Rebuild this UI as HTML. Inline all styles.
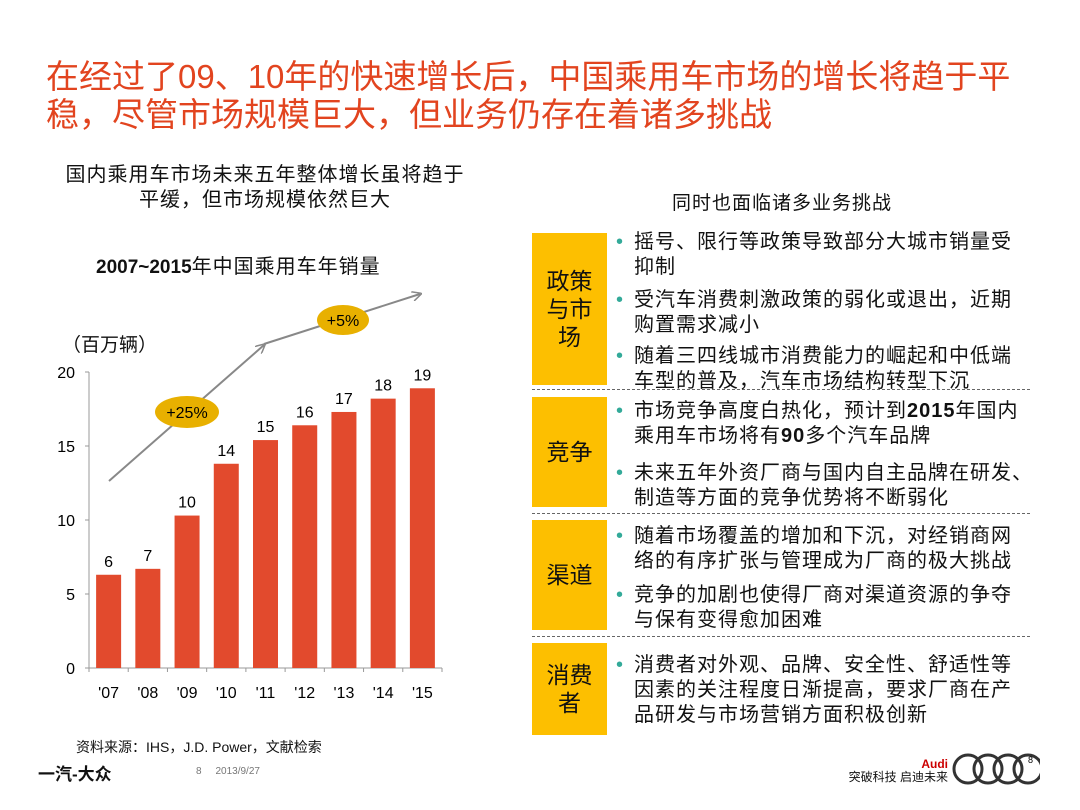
<!DOCTYPE html>
<html><head><meta charset="utf-8"><style>
body{margin:0;width:1080px;height:810px;background:#fff;position:relative;overflow:hidden;font-family:"Liberation Sans","Noto Sans CJK SC",sans-serif;color:#111}
.a{position:absolute}
.title{left:46px;top:58px;font-size:33px;line-height:38px;color:#e2441f;width:975px}
.ybox{position:absolute;left:532px;width:75px;background:#fdbf00;display:flex;align-items:center;justify-content:center;text-align:center;font-size:23px;line-height:28px}
.bl{position:absolute;left:616px;font-size:20px;letter-spacing:1px;line-height:25px;width:392px;padding-left:18px}
.bl span.d{position:absolute;left:0;color:#3a9;}
.dash{position:absolute;left:532px;width:498px;border-top:1px dashed #666}
</style></head><body>
<div class="a title">在经过了09、10年的快速增长后，中国乘用车市场的增长将趋于平稳，尽管市场规模巨大，但业务仍存在着诸多挑战</div>
<div class="a" style="left:50px;top:163px;width:430px;text-align:center;font-size:20px;letter-spacing:1px;line-height:25px">国内乘用车市场未来五年整体增长虽将趋于<br>平缓，但市场规模依然巨大</div>
<div class="a" style="left:532px;top:188px;width:500px;text-align:center;font-size:19px;letter-spacing:1px">同时也面临诸多业务挑战</div>
<div class="a" style="left:96px;top:250px;font-size:19px;font-weight:bold">2007~2015<span style="font-weight:normal;font-size:20px;letter-spacing:1px">年中国乘用车年销量</span></div>
<div class="a" style="left:62px;top:330px;font-size:19px">（百万辆）</div>
<svg class="a" style="left:0;top:0" width="1080" height="810" id="chart"></svg>
<div class="a" style="left:76px;top:737px;font-size:14px">资料来源：IHS，J.D. Power，文献检索</div>
<div class="a" style="left:38px;top:760px;font-size:17px;font-weight:bold">一汽-大众</div>
<div class="a" style="left:196px;top:766px;font-size:10px;color:#777">8 &nbsp;&nbsp;&nbsp;&nbsp;2013/9/27</div>
<div class="a" style="left:838px;top:758px;font-size:12px;text-align:right;width:110px;line-height:13px"><span style="color:#c00;font-weight:bold">Audi</span><br>突破科技 启迪未来</div>
<svg class="a" style="left:950px;top:752px" width="90" height="36"><g fill="none" stroke="#333" stroke-width="3"><circle cx="18" cy="17" r="14"/><circle cx="38" cy="17" r="14"/><circle cx="58" cy="17" r="14"/><circle cx="78" cy="17" r="14"/></g><text x="78" y="11" font-size="9" font-family="Liberation Sans">8</text></svg>

<div class="ybox" style="top:233px;height:152px">政策<br>与市<br>场</div>
<div class="ybox" style="top:397px;height:110px">竞争</div>
<div class="ybox" style="top:520px;height:110px">渠道</div>
<div class="ybox" style="top:643px;height:92px">消费<br>者</div>
<div class="dash" style="top:389px"></div>
<div class="dash" style="top:513px"></div>
<div class="dash" style="top:636px"></div>
<div class="bl" style="top:230px"><span class="d">•</span>摇号、限行等政策导致部分大城市销量受抑制</div>
<div class="bl" style="top:288px"><span class="d">•</span>受汽车消费刺激政策的弱化或退出，近期购置需求减小</div>
<div class="bl" style="top:344px"><span class="d">•</span>随着三四线城市消费能力的崛起和中低端车型的普及，汽车市场结构转型下沉</div>
<div class="bl" style="top:399px"><span class="d">•</span>市场竞争高度白热化，预计到<b>2015</b>年国内乘用车市场将有<b>90</b>多个汽车品牌</div>
<div class="bl" style="top:461px;white-space:nowrap"><span class="d">•</span>未来五年外资厂商与国内自主品牌在研发、<br>制造等方面的竞争优势将不断弱化</div>
<div class="bl" style="top:524px"><span class="d">•</span>随着市场覆盖的增加和下沉，对经销商网络的有序扩张与管理成为厂商的极大挑战</div>
<div class="bl" style="top:583px"><span class="d">•</span>竞争的加剧也使得厂商对渠道资源的争夺与保有变得愈加困难</div>
<div class="bl" style="top:653px"><span class="d">•</span>消费者对外观、品牌、安全性、舒适性等因素的关注程度日渐提高，要求厂商在产品研发与市场营销方面积极创新</div>

<script>
const categories=["'07","'08","'09","'10","'11","'12","'13","'14","'15"];
const salesValues=[6.3,6.7,10.3,13.8,15.4,16.4,17.3,18.2,18.9];
const valueLabels=["6","7","10","14","15","16","17","18","19"];
const yTicks=[0,5,10,15,20];
const svg=document.getElementById('chart');
const NS='http://www.w3.org/2000/svg';
const x0=89,x1=442,y0=668,y1=372,yMax=20;
const band=(x1-x0)/categories.length;
const yS=v=>y0-(y0-y1)*v/yMax;
const xS=i=>x0+band*(i+0.5);
function mk(t,a){const e=document.createElementNS(NS,t);for(const k in a)e.setAttribute(k,a[k]);svg.appendChild(e);return e;}
let e=mk('line',{x1:x0,y1:y1,x2:x0,y2:y0,stroke:'#999'});

e=mk('line',{x1:x0,y1:y0,x2:x1,y2:y0,stroke:'#999'});

yTicks.forEach(t=>{
 mk('line',{x1:x0-4,x2:x0,y1:yS(t),y2:yS(t),stroke:'#999'});
 e=mk('text',{x:x0-14,y:yS(t)+6,'text-anchor':'end','font-size':16,'font-family':'Liberation Sans'});
 e.textContent=t;
 
});
for(let i=0;i<=categories.length;i++)mk('line',{x1:x0+band*i,x2:x0+band*i,y1:y0,y2:y0+4,stroke:'#999'});
categories.forEach((c,i)=>{
 const v=salesValues[i];
 e=mk('rect',{x:xS(i)-12.5,y:yS(v),width:25,height:y0-yS(v),fill:'#e24a2d'});
 
 e=mk('text',{x:xS(i),y:yS(v)-8,'text-anchor':'middle','font-size':16,'font-family':'Liberation Sans'});
 e.textContent=valueLabels[i];
 
 e=mk('text',{x:xS(i),y:y0+30,'text-anchor':'middle','font-size':16,'font-family':'Liberation Sans'});
 e.textContent=c;
 
});
mk('defs',{}).innerHTML='<marker id="ar" markerWidth="10" markerHeight="10" refX="8" refY="5" orient="auto" markerUnits="userSpaceOnUse"><path d="M0,0 L10,5 L0,10" fill="none" stroke="#888" stroke-width="1.5"/></marker>';
e=mk('line',{x1:109,y1:481,x2:264,y2:345,stroke:'#888','stroke-width':2,'marker-end':'url(#ar)'});

e=mk('line',{x1:264,y1:344,x2:420,y2:294,stroke:'#888','stroke-width':2,'marker-end':'url(#ar)'});

e=mk('ellipse',{cx:187,cy:412,rx:32,ry:16,fill:'#e8b000'});

e=mk('text',{x:187,y:418,'text-anchor':'middle','font-size':16,'font-family':'Liberation Sans'});e.textContent='+25%';
e=mk('ellipse',{cx:343,cy:320,rx:26,ry:15,fill:'#e8b000'});

e=mk('text',{x:343,y:326,'text-anchor':'middle','font-size':16,'font-family':'Liberation Sans'});e.textContent='+5%';
</script>
</body></html>
